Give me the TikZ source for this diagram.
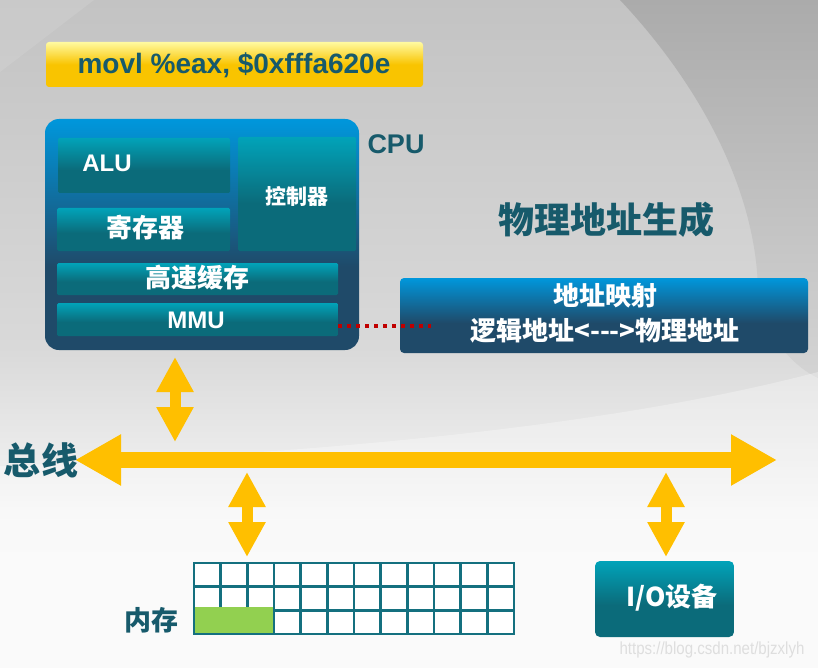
\documentclass[tikz,border=0pt]{standalone}
\usepackage{fontspec}
\setmainfont{Liberation Sans}
\newfontfamily\cjk{Noto Sans CJK SC}
\usetikzlibrary{arrows.meta,calc}
\definecolor{blueT}{HTML}{0097DC}
\definecolor{navyB}{HTML}{1F4A69}
\definecolor{tealT}{HTML}{01A3B9}
\definecolor{tealB}{HTML}{0B6B7A}
\definecolor{goldT}{HTML}{FFFAA0}
\definecolor{goldB}{HTML}{F9C400}
\definecolor{busY}{HTML}{FFBF00}
\definecolor{txtC}{HTML}{175A6B}
\definecolor{gridC}{HTML}{14707F}
\definecolor{greenC}{HTML}{92D050}
\definecolor{bgA}{HTML}{C3C3C3}
\definecolor{bgB}{HTML}{D9D9D9}
\definecolor{bgC}{HTML}{F7F7F7}
\definecolor{darkR}{HTML}{ABABAB}
\definecolor{darkRb}{HTML}{D4D4D4}
\definecolor{redDot}{HTML}{C00000}
\definecolor{wmC}{HTML}{DEDEDE}
\pgfdeclareverticalshading{cpushade}{100bp}{color(0bp)=(navyB); color(43bp)=(navyB); color(75bp)=(blueT); color(100bp)=(blueT)}
\pgfdeclareverticalshading{mapshade}{100bp}{color(0bp)=(navyB); color(45bp)=(navyB); color(75bp)=(blueT); color(100bp)=(blueT)}
\pgfdeclareverticalshading{tealshade}{100bp}{color(0bp)=(tealB); color(46bp)=(tealB); color(75bp)=(tealT); color(100bp)=(tealT)}
\pgfdeclareverticalshading{goldshade}{100bp}{color(0bp)=(goldB); color(50bp)=(goldB); color(75bp)=(goldT); color(100bp)=(goldT)}
\pgfdeclareverticalshading{bgshade}{100bp}{color(0bp)=(white); color(36bp)=(bgC); color(49bp)=(bgB); color(75bp)=(bgA); color(100bp)=(bgA)}
\pgfdeclareverticalshading{darkshade}{100bp}{color(0bp)=(darkRb); color(25bp)=(darkRb); color(75bp)=(darkR); color(100bp)=(darkR)}
\tikzset{
  box/.style={anchor=north west, inner sep=0pt, outer sep=0pt, shade},
  tealbox/.style={box, shading=tealshade, rounded corners=1.5pt},
  wtxt/.style={text=white, font=\bfseries\fontsize{24}{28}\selectfont, inner sep=0pt},
  wcjk/.style={text=white, font=\cjk\bfseries\fontsize{#1}{35}\selectfont, inner sep=0pt, align=center},
  dtcjk/.style={text=txtC, font=\cjk\bfseries\fontsize{#1}{#1}\selectfont, inner sep=0pt},
  vbus/.style={draw=busY, line width=11pt, {Triangle[length=35pt,width=35pt]}-{Triangle[length=35pt,width=35pt]}},
  hbus/.style={draw=busY, line width=16pt, {Triangle[length=46pt,width=48pt]}-{Triangle[length=46pt,width=48pt]}},
  reddot/.style={draw=redDot, line width=3.5pt, dash pattern=on 3.5pt off 5.5pt},
  gridline/.style={draw=gridC, line width=2.6pt}
}
\begin{document}
\begin{tikzpicture}[x=1pt, y=-1pt]
% background
\useasboundingbox (0,0) rectangle (818,668);
\shade[shading=bgshade] (0,0) rectangle (818,668);
\shade[shading=darkshade] (620,0) .. controls (700,85) and (756,190) .. (758,290)
  .. controls (762,330) and (790,365) .. (818,378) -- (818,0) -- cycle;
\fill[white, opacity=0.3] (0,466) .. controls (200,458) and (560,440) .. (818,372) -- (818,668) -- (0,668) -- cycle;
\fill[white, opacity=0.1] (0,0) -- (94,0) -- (0,72) -- cycle;

% instruction
\node[box, shading=goldshade, rounded corners=3pt, minimum width=377pt, minimum height=45pt] (instr) at (46,42) {};
\node[text=txtC, font=\bfseries\fontsize{28}{32}\selectfont, inner sep=0pt] (instrt) at (234,65) {movl \%eax, \$0xfffa620e};

% CPU
\node[box, shading=cpushade, rounded corners=14pt, minimum width=314pt, minimum height=231pt] (cpu) at (45,119) {};
\node[tealbox, minimum width=172pt, minimum height=55pt] (alu) at (58,138) {};
\node[wtxt] (alut) at (107,163) {ALU};
\node[tealbox, minimum width=173pt, minimum height=43pt] (reg) at (57,208) {};
\node[wcjk=26] (regt) at (145,228) {寄存器};
\node[tealbox, minimum width=118pt, minimum height=114pt] (ctl) at (238,137) {};
\node[wcjk=21] (ctlt) at (297,196) {控制器};
\node[tealbox, minimum width=281pt, minimum height=32pt] (cache) at (57,263) {};
\node[wcjk=26] (cachet) at (197,278) {高速缓存};
\node[tealbox, minimum width=281pt, minimum height=33pt] (mmu) at (57,303) {};
\node[wtxt] (mmut) at (196,320) {MMU};
\node[text=txtC, font=\bfseries\fontsize{27}{30}\selectfont, inner sep=0pt] (cpul) at (396,144) {CPU};

% title
\node[dtcjk=36] (title) at (606,220) {物理地址生成};

% mapping box
\node[box, shading=mapshade, rounded corners=4pt, minimum width=408pt, minimum height=75pt] (map) at (400,278) {};
\node[wcjk=26] (mapt) at (605,313) {地址映射\\逻辑地址<-{}-{}->物理地址};
\coordinate (dotE) at (431,326);
\draw[reddot] (mmu.east |- dotE) -- (dotE);

% bus
\coordinate (busL) at (75,460);
\coordinate (busR) at (777,460);
\draw[hbus] (busL) -- (busR);
\node[dtcjk=37] (busl) at (41,460) {总线};

% CPU <-> bus
\coordinate (cpuA) at (175,357);
\coordinate (cpuB) at (175,442);
\draw[vbus] (cpuA) -- (cpuB);

% memory
\coordinate (memA) at (247,472);
\coordinate (memB) at (247,557);
\draw[vbus] (memA) -- (memB);
\node[anchor=north west, fill=white, inner sep=0pt, outer sep=0pt, minimum width=320pt, minimum height=71pt] (mem) at (194,563) {};
\foreach \i in {1,...,11} {
  \draw[gridline] ($(mem.north west)+(\i*26.667,0)$) -- ($(mem.south west)+(\i*26.667,0)$);
}
\foreach \j in {1,2} {
  \draw[gridline] ($(mem.north west)+(0,\j*23.667)$) -- ($(mem.north east)+(0,\j*23.667)$);
}
\fill[greenC] (195.3,607) rectangle (273,632.7);
\draw[gridline] (mem.north west) rectangle (mem.south east);
\node[dtcjk=27] (memt) at (151,620) {内存};

% IO
\coordinate (ioA) at (666,472);
\coordinate (ioB) at (666,557);
\draw[vbus] (ioA) -- (ioB);
\node[tealbox, rounded corners=5pt, minimum width=139pt, minimum height=76pt] (io) at (595,561) {};
\node[wcjk=26] (iot) at (672,598) {I/O设备};

% watermark
\node[text=wmC, font=\fontsize{17.5}{18}\selectfont, inner sep=0pt, xscale=0.86] (wm) at (712,650) {https://blog.csdn.net/bjzxlyh};
\end{tikzpicture}
\end{document}
